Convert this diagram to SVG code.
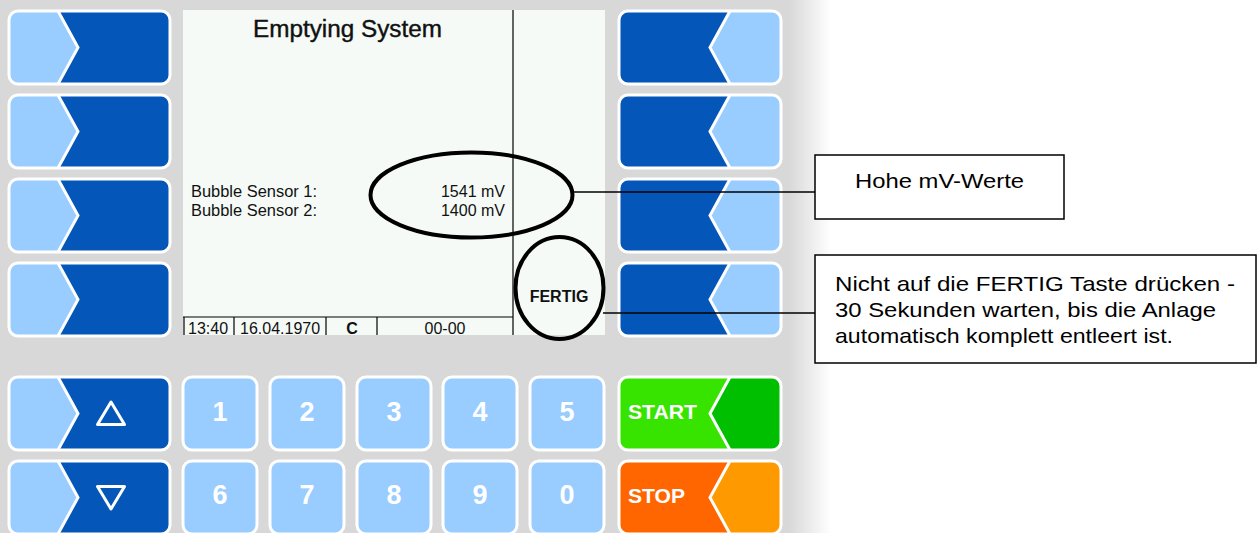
<svg xmlns="http://www.w3.org/2000/svg" xmlns:xlink="http://www.w3.org/1999/xlink" width="1257" height="533" viewBox="0 0 1257 533">
<style>
.dk{fill:#0456b8}
.lt{fill:#99ccff}
.edge{fill:none;stroke:#ffffff;stroke-width:3}
.chev{fill:none;stroke:#ffffff;stroke-width:3;stroke-linejoin:miter}
.key{fill:#99ccff;stroke:#ffffff;stroke-width:3}
.dig{font-family:"Liberation Sans",Arial,sans-serif;font-weight:bold;font-size:27px;fill:#ffffff;text-anchor:middle}
.btxt{font-family:"Liberation Sans",Arial,sans-serif;font-weight:bold;font-size:20.5px;fill:#ffffff}
.scr{font-family:"Liberation Sans",Arial,sans-serif;font-size:16px;fill:#111111}
.ring{fill:none;stroke:#000000;stroke-width:4}
.box{fill:#ffffff;stroke:#000000;stroke-width:1.5}
.note{font-family:"Liberation Sans",Arial,sans-serif;font-size:21px;fill:#000000}
.con{stroke:#000000;stroke-width:1.5;fill:none}
.sl{stroke:#000000;stroke-width:1.2}
</style>
<defs>
<linearGradient id="fade" x1="0" y1="0" x2="1" y2="0">
<stop offset="0" stop-color="#d8d8d8"/>
<stop offset="1" stop-color="#ffffff"/>
</linearGradient>
<g id="lb">
<rect x="0" y="0" width="161" height="73" rx="9" class="dk"/>
<path class="lt" d="M49,0 L9,0 A9,9 0 0 0 0,9 L0,64 A9,9 0 0 0 9,73 L49,73 L69,36.5 Z"/>
<polyline class="chev" points="49,0 69,36.5 49,73"/>
<rect x="0" y="0" width="161" height="73" rx="9" class="edge"/>
</g>
<g id="rb">
<rect x="0" y="0" width="162" height="73" rx="9" class="dk"/>
<path class="lt" d="M111,0 L153,0 A9,9 0 0 1 162,9 L162,64 A9,9 0 0 1 153,73 L111,73 L91,36.5 Z"/>
<polyline class="chev" points="111,0 91,36.5 111,73"/>
<rect x="0" y="0" width="162" height="73" rx="9" class="edge"/>
</g>
</defs>

<g id="panel">
<rect x="0" y="0" width="790" height="533" fill="#d8d8d8"/>
<rect x="789" y="0" width="42" height="533" fill="url(#fade)"/>
</g>

<g id="left-buttons">
<use id="btn-l1" xlink:href="#lb" x="9" y="11"/>
<use id="btn-l2" xlink:href="#lb" x="9" y="95"/>
<use id="btn-l3" xlink:href="#lb" x="9" y="179"/>
<use id="btn-l4" xlink:href="#lb" x="9" y="263"/>
</g>

<g id="right-buttons">
<use id="btn-r1" xlink:href="#rb" x="619" y="11"/>
<use id="btn-r2" xlink:href="#rb" x="619" y="95"/>
<use id="btn-r3" xlink:href="#rb" x="619" y="179"/>
<use id="btn-r4" xlink:href="#rb" x="619" y="263"/>
</g>

<g id="screen">
<rect x="183" y="10" width="422" height="325" fill="#f5faf7"/>
<line class="sl" x1="513" y1="10" x2="513" y2="335"/>
<text x="253" y="37" font-family="'Liberation Sans',Arial,sans-serif" font-size="23.5px" fill="#111111" stroke="#111111" stroke-width="0.4" textLength="189" lengthAdjust="spacingAndGlyphs">Emptying System</text>
<text class="scr" x="191" y="197" textLength="126" lengthAdjust="spacingAndGlyphs">Bubble Sensor 1:</text>
<text class="scr" x="191" y="216" textLength="126" lengthAdjust="spacingAndGlyphs">Bubble Sensor 2:</text>
<text class="scr" x="505" y="197" text-anchor="end">1541 mV</text>
<text class="scr" x="505" y="216" text-anchor="end">1400 mV</text>
<text x="559" y="302" font-family="'Liberation Sans',Arial,sans-serif" font-weight="bold" font-size="16px" fill="#111111" text-anchor="middle">FERTIG</text>
<line class="sl" x1="183" y1="317" x2="513" y2="317"/>
<line class="sl" x1="184" y1="317" x2="184" y2="335"/>
<line class="sl" x1="234" y1="317" x2="234" y2="335"/>
<line class="sl" x1="326" y1="317" x2="326" y2="335"/>
<line class="sl" x1="377" y1="317" x2="377" y2="335"/>
<text class="scr" x="188" y="334">13:40</text>
<text class="scr" x="240" y="334">16.04.1970</text>
<text class="scr" x="352" y="334" text-anchor="middle" font-weight="bold">C</text>
<text class="scr" x="445" y="334" text-anchor="middle">00-00</text>
</g>

<g id="arrow-up">
<use xlink:href="#lb" x="9" y="377"/>
<polygon points="97.5,424.5 124.5,424.5 111,402" fill="none" stroke="#ffffff" stroke-width="3" stroke-linejoin="round"/>
</g>
<g id="arrow-down">
<use xlink:href="#lb" x="9" y="461"/>
<polygon points="97.5,486.5 124.5,486.5 111,509" fill="none" stroke="#ffffff" stroke-width="3" stroke-linejoin="round"/>
</g>

<g id="key-1"><rect class="key" x="183" y="377" width="74" height="73" rx="9"/><text class="dig" x="220" y="421">1</text></g>
<g id="key-2"><rect class="key" x="270" y="377" width="74" height="73" rx="9"/><text class="dig" x="307" y="421">2</text></g>
<g id="key-3"><rect class="key" x="357" y="377" width="74" height="73" rx="9"/><text class="dig" x="394" y="421">3</text></g>
<g id="key-4"><rect class="key" x="443" y="377" width="74" height="73" rx="9"/><text class="dig" x="480" y="421">4</text></g>
<g id="key-5"><rect class="key" x="530" y="377" width="74" height="73" rx="9"/><text class="dig" x="567" y="421">5</text></g>
<g id="key-6"><rect class="key" x="183" y="461" width="74" height="73" rx="9"/><text class="dig" x="220" y="504">6</text></g>
<g id="key-7"><rect class="key" x="270" y="461" width="74" height="73" rx="9"/><text class="dig" x="307" y="504">7</text></g>
<g id="key-8"><rect class="key" x="357" y="461" width="74" height="73" rx="9"/><text class="dig" x="394" y="504">8</text></g>
<g id="key-9"><rect class="key" x="443" y="461" width="74" height="73" rx="9"/><text class="dig" x="480" y="504">9</text></g>
<g id="key-0"><rect class="key" x="530" y="461" width="74" height="73" rx="9"/><text class="dig" x="567" y="504">0</text></g>

<g id="btn-start">
<rect x="619" y="377" width="162" height="73" rx="9" fill="#36e400"/>
<path fill="#00bf00" d="M730,377 L772,377 A9,9 0 0 1 781,386 L781,441 A9,9 0 0 1 772,450 L730,450 L710,413.5 Z"/>
<polyline class="chev" points="730,377 710,413.5 730,450"/>
<rect x="619" y="377" width="162" height="73" rx="9" class="edge"/>
<text class="btxt" x="628" y="419" textLength="69" lengthAdjust="spacingAndGlyphs">START</text>
</g>
<g id="btn-stop">
<rect x="619" y="461" width="162" height="73" rx="9" fill="#ff6600"/>
<path fill="#ff9900" d="M730,461 L772,461 A9,9 0 0 1 781,470 L781,525 A9,9 0 0 1 772,534 L730,534 L710,497.5 Z"/>
<polyline class="chev" points="730,461 710,497.5 730,534"/>
<rect x="619" y="461" width="162" height="73" rx="9" class="edge"/>
<text class="btxt" x="628" y="503" textLength="57" lengthAdjust="spacingAndGlyphs">STOP</text>
</g>

<g id="highlights">
<ellipse id="ring-values" class="ring" cx="471.5" cy="195" rx="101" ry="42.5"/>
<ellipse id="ring-fertig" class="ring" cx="559.5" cy="288" rx="44" ry="51"/>
</g>

<g id="connectors">
<line class="con" x1="573" y1="192" x2="815" y2="192"/>
<line class="con" x1="603" y1="313" x2="815" y2="313"/>
</g>

<g id="callout-values">
<rect class="box" x="815" y="155" width="249" height="64"/>
<text class="note" x="939.5" y="188" text-anchor="middle" textLength="169" lengthAdjust="spacingAndGlyphs">Hohe mV-Werte</text>
</g>
<g id="callout-fertig">
<rect class="box" x="815" y="255" width="441" height="108"/>
<text class="note" x="835" y="291" textLength="400" lengthAdjust="spacingAndGlyphs">Nicht auf die FERTIG Taste drücken -</text>
<text class="note" x="835" y="317" textLength="381" lengthAdjust="spacingAndGlyphs">30 Sekunden warten, bis die Anlage</text>
<text class="note" x="835" y="343" textLength="338" lengthAdjust="spacingAndGlyphs">automatisch komplett entleert ist.</text>
</g>
</svg>
